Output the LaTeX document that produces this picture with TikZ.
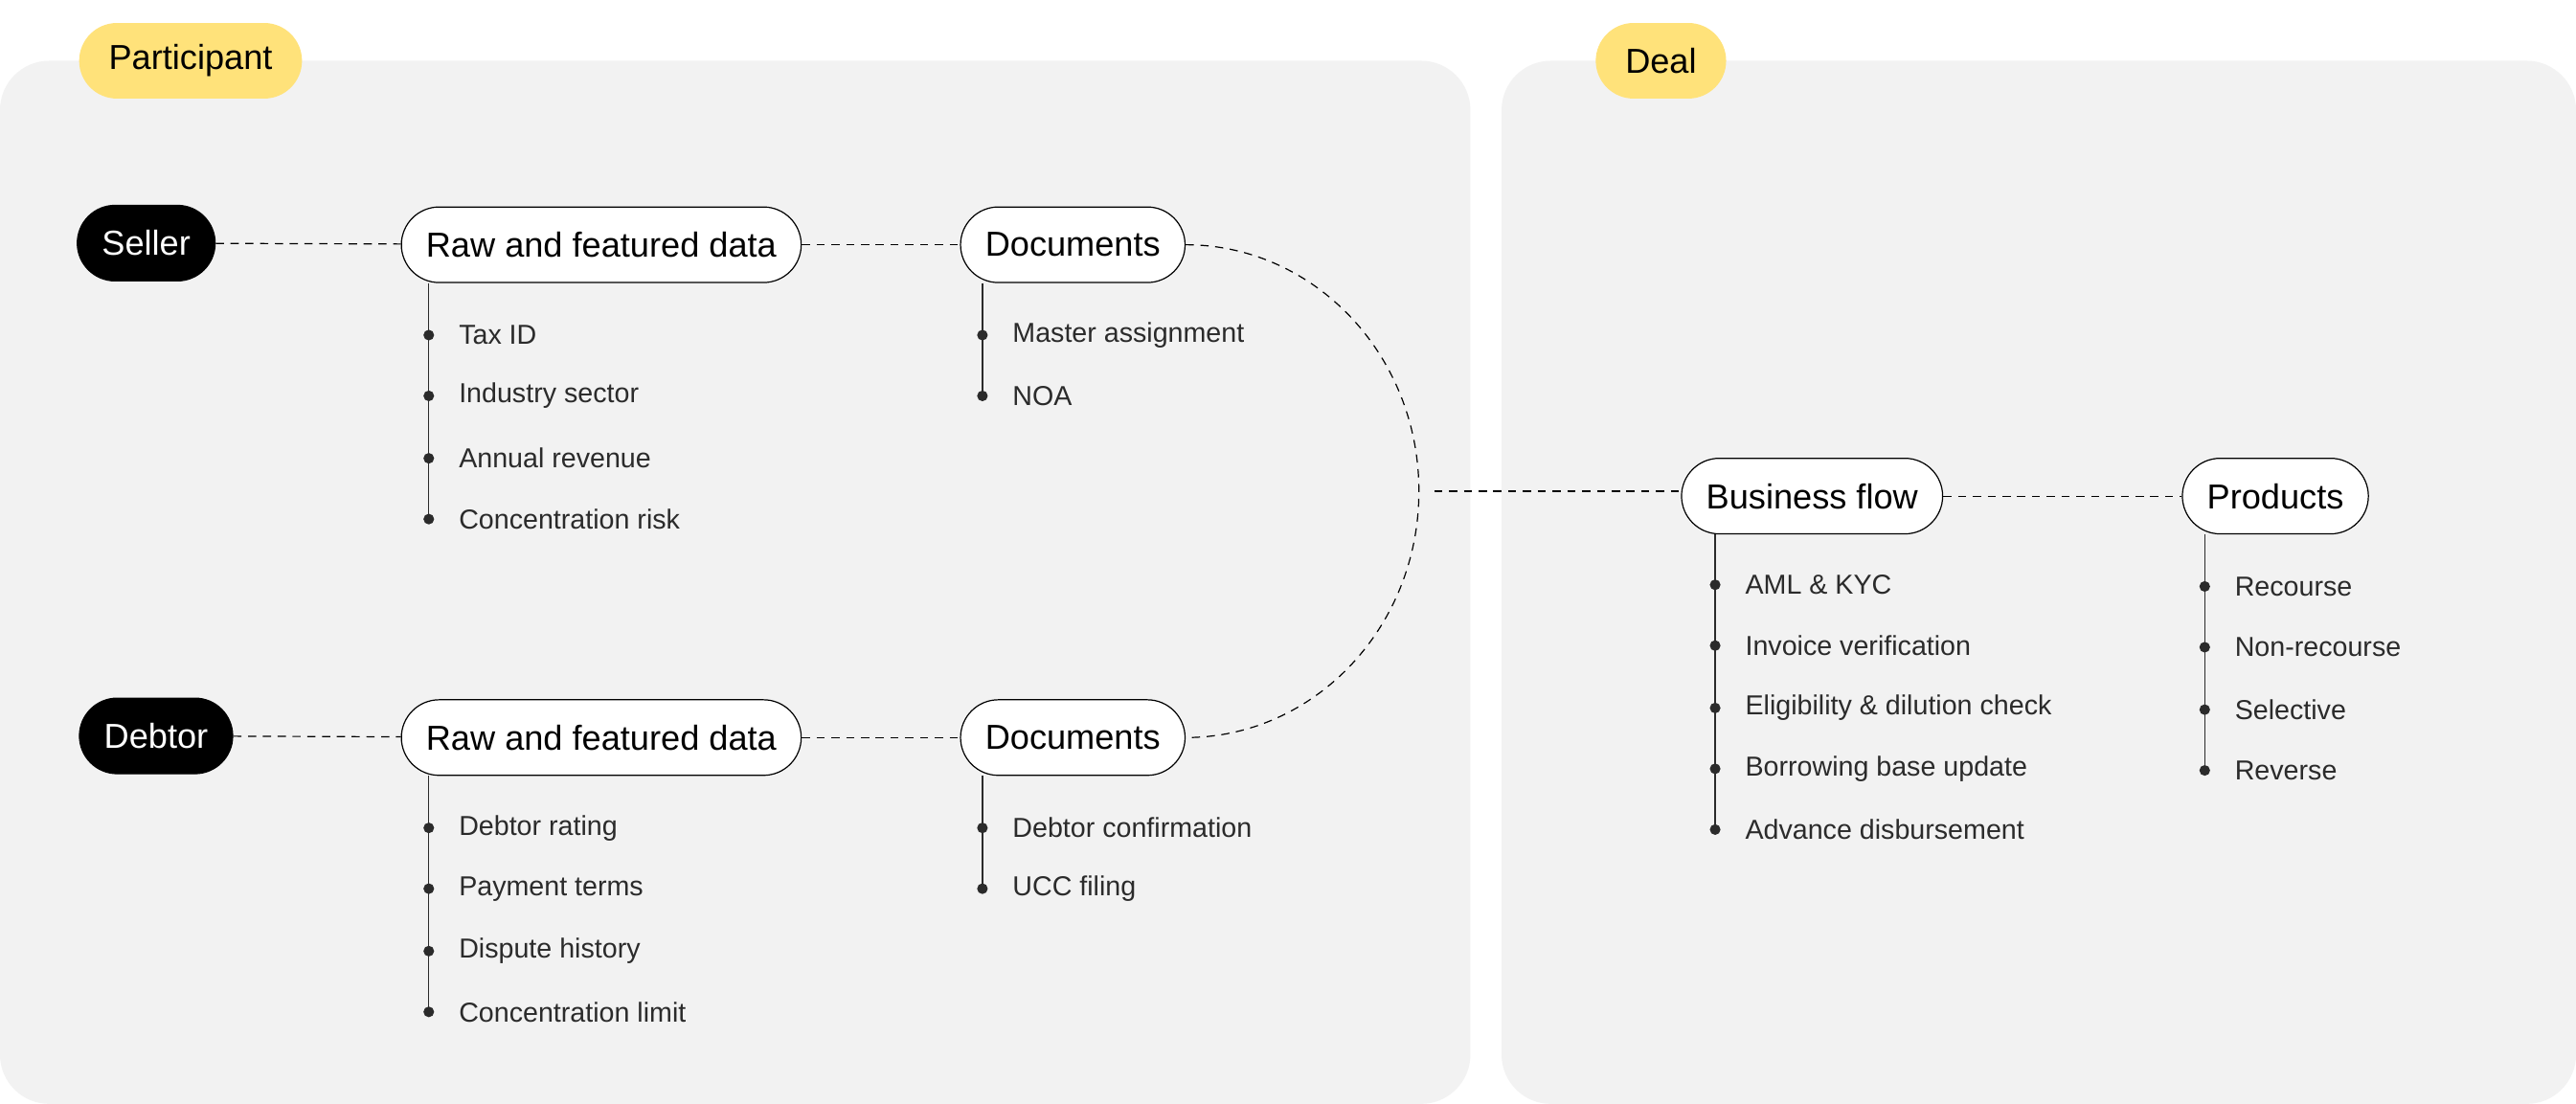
\documentclass[tikz,border=0pt]{standalone}
\usepackage{fontspec}
\setmainfont{Liberation Sans}
\usetikzlibrary{positioning}

\definecolor{panelgray}{HTML}{F2F2F2}
\definecolor{tagyellow}{HTML}{FFE27A}
\definecolor{inkgray}{HTML}{2B2B2B}

\tikzset{
  pill/.style={draw=black, fill=white, rounded corners=23*0.2mm, minimum height=46*0.2mm,
    inner xsep=3mm, font=\fontsize{12}{14}\selectfont},
  darkpill/.style={pill, fill=black, text=white},
  tag/.style={fill=tagyellow, rounded corners=23*0.2mm, minimum height=46*0.2mm,
    inner xsep=3.6mm, font=\fontsize{12}{14}\selectfont},
  link/.style={dashed, dash pattern=on 1mm off 0.8mm, thin},
  item/.style={anchor=west, text=inkgray, font=\fontsize{9.5}{11}\selectfont, inner sep=0pt},
  dot/.style={circle, fill=inkgray, inner sep=0pt, minimum size=1.3mm},
}

\begin{document}
\begin{tikzpicture}[x=0.2mm, y=-0.2mm]

    % Background and panels
    \useasboundingbox[fill=white] (0,0) rectangle (1568,672);
    \fill[panelgray, rounded corners=6mm] (0,37) rectangle (895,672);
    \fill[panelgray, rounded corners=6mm] (914,37) rectangle (1568,672);

    % Section tags
    \node[tag] (participant) at (116,37) {Participant};
    \node[tag] (deal) at (1011,37) {Deal};

    % Participant rows
    \node[darkpill] (seller) at (89,148) {Seller};
    \node[pill] (sellerdata) at (366,149) {Raw and featured data};
    \node[pill] (sellerdocs) at (653,149) {Documents};
    \node[darkpill] (debtor) at (95,448) {Debtor};
    \node[pill] (debtordata) at (366,449) {Raw and featured data};
    \node[pill] (debtordocs) at (653,449) {Documents};

    % Deal row
    \node[pill] (flow) at (1103,302) {Business flow};
    \node[pill] (products) at (1385,302) {Products};

    % Dashed links
    \draw[link] (seller) -- (sellerdata);
    \draw[link] (sellerdata) -- (sellerdocs);
    \draw[link] (debtor) -- (debtordata);
    \draw[link] (debtordata) -- (debtordocs);
    \draw[link] (sellerdocs.east) arc[start angle=-90, end angle=90, x radius=142, y radius=150];
    \coordinate (join) at (873,299);
    \draw[link] (join) -- (flow.west |- join);
    \draw[link] (flow) -- (products);

    % Item lists
    \foreach \src/\x/\list in {
        sellerdata/261/{204/Tax ID,241/Industry sector,279/Annual revenue,316/Concentration risk},
        sellerdocs/598/{204/Master assignment,241/NOA},
        debtordata/261/{504/Debtor rating,541/Payment terms,579/Dispute history,616/Concentration limit},
        debtordocs/598/{504/Debtor confirmation,541/UCC filing},
        flow/1044/{356/AML \& KYC,393/Invoice verification,431/Eligibility \& dilution check,468/Borrowing base update,505/Advance disbursement},
        products/1342/{357/Recourse,394/Non-recourse,432/Selective,469/Reverse}} {
      \foreach \y/\txt in \list {
        \node[dot] (\src-\y) at (\x,\y) {};
        \node[item] (\src-t\y) at (\x+18,\y) {\txt};
        \coordinate (\src-last) at (\x,\y);
      }
      \draw[inkgray] (\src.south -| \src-last) -- (\src-last);
    }

\end{tikzpicture}
\end{document}
